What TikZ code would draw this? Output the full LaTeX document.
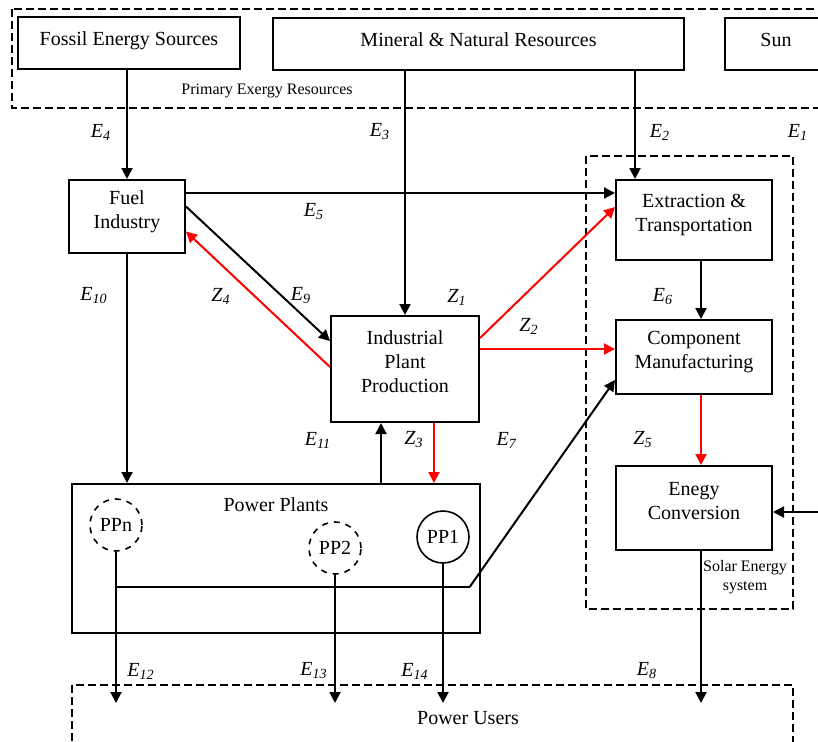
\documentclass[tikz,border=0pt]{standalone}
\usepackage{fontspec}
\setmainfont{Liberation Serif}
\usetikzlibrary{arrows.meta,calc}

\newcommand{\flowlab}[2]{\textit{#1}\textsubscript{\textit{#2}}}

\begin{document}
\begin{tikzpicture}[x=0.5pt, y=-0.5pt,
  block/.style={draw, line width=1pt, align=center, text depth=7pt},
  source/.style={block, text depth=4pt, minimum height=26pt},
  group/.style={draw, dash pattern=on 4pt off 2pt, line width=0.8pt},
  arr/.style={line width=1pt, -{Triangle[length=5.5pt,width=5.5pt]}},
  redarr/.style={arr, red},
  plant/.style={draw, circle, minimum size=26pt, inner sep=0pt, line width=0.8pt},
  lbl/.style={inner sep=0pt}]

  \useasboundingbox (0,0) rectangle (818,741);

  % Primary exergy resources
  \draw[group] (12,9) rectangle (860,108);
  \node[source, minimum width=111pt] (fossil) at (129,43) {Fossil Energy Sources};
  \node[source, minimum width=205.5pt] (mineral) at (478.5,44) {Mineral \& Natural Resources};
  \node[source, minimum width=51pt] (sun) at (776,44) {Sun};
  \node[font=\footnotesize] (primary) at (267,91) {Primary Exergy Resources};

  % Solar energy system
  \draw[group] (586,156) rectangle (793,609);
  \node[block, minimum width=78pt, minimum height=40pt] (extr) at (694,220) {Extraction \&\\Transportation};
  \node[block, minimum width=78pt, minimum height=37pt] (comp) at (694,357) {Component\\Manufacturing};
  \node[block, minimum width=78pt, minimum height=42pt] (conv) at (694,508) {Enegy\\Conversion};
  \node[font=\footnotesize, align=center] (solar) at (745,577) {Solar Energy\\system};

  % Industry
  \node[block, minimum width=58pt, minimum height=36.5pt] (fuel) at (127,216.5) {Fuel\\Industry};
  \node[block, minimum width=74pt, minimum height=53pt] (ind) at (405,369) {Industrial\\Plant\\Production};

  % Power plants
  \node[draw, line width=1pt, minimum width=204pt, minimum height=74.5pt] (pp) at (276,558.5) {};
  \node (pplabel) at (276,505) {Power Plants};
  \node[plant, dashed] (ppn) at (116,525) {PPn};
  \node[plant, dashed] (pp2) at (335,548) {PP2};
  \node[plant] (pp1) at (443,537) {PP1};

  % Power users
  \draw[group] (72,685) rectangle (793,780);
  \node (users) at (468,718) {Power Users};
  \coordinate (utop) at (400,703);

  % Exergy flows
  \draw[arr] (fossil.south -| fuel.north) -- (fuel.north);
  \draw[arr] (mineral.south -| ind.north) -- (ind.north);
  \coordinate (e2in) at ($(extr.north west)+(20,0)$);
  \draw[arr] (mineral.south -| e2in) -- (e2in);
  \draw[arr] (sun.east) |- ($(conv.east)+(0,4)$);
  \draw[arr] ($(fuel.north east)+(0,14)$) coordinate (e5) -- (e5 -| extr.west);
  \draw[arr] ($(fuel.east)+(0,-10)$) -- ($(ind.west)+(0,-28)$);
  \draw[arr] (fuel) -- (fuel |- pp.north);
  \coordinate (e11) at ($(ind.south)+(-24,0)$);
  \draw[arr] (e11 |- pp.north) -- (e11);
  \coordinate (e6) at ($(extr.south)+(7,0)$);
  \draw[arr] (e6) -- (e6 |- comp.north);
  \draw[arr] (conv.south -| e6) -- (e6 |- utop);
  \draw[arr] (ppn) -- (ppn |- utop);
  \draw[arr] (pp2) -- (pp2 |- utop);
  \draw[arr] (pp1) -- (pp1 |- utop);
  \coordinate (bus) at ($(ppn.south)+(0,35)$);
  \coordinate (bend) at (bus -| pp1.east);
  \draw[line width=1pt] (bus) -- (bend);
  \draw[arr] (bend) -- ($(comp.west)+(0,23)$);

  % Cost flows
  \draw[redarr] ($(ind.west)+(0,-2)$) -- ($(fuel.east)+(0,15)$);
  \draw[redarr] ($(ind.east)+(0,-31)$) -- ($(extr.west)+(0,-13)$);
  \draw[redarr] ($(ind.east)+(0,-20)$) coordinate (z2) -- (z2 -| comp.west);
  \coordinate (z3) at ($(ind.south)+(29,0)$);
  \draw[redarr] (z3) -- (z3 |- pp.north);
  \draw[redarr] (comp.south -| e6) -- (conv.north -| e6);

  % Labels
  \node[lbl] (le1) at (798,132) {\flowlab{E}{1}};
  \node[lbl] (le2) at (660,132) {\flowlab{E}{2}};
  \node[lbl] (le3) at (380,132) {\flowlab{E}{3}};
  \node[lbl] (le4) at (101,132) {\flowlab{E}{4}};
  \node[lbl] (le5) at (314,212) {\flowlab{E}{5}};
  \node[lbl] (le6) at (663,297) {\flowlab{E}{6}};
  \node[lbl] (le7) at (507,440) {\flowlab{E}{7}};
  \node[lbl] (le8) at (647,671) {\flowlab{E}{8}};
  \node[lbl] (le9) at (301,296) {\flowlab{E}{9}};
  \node[lbl] (le10) at (94,296) {\flowlab{E}{10}};
  \node[lbl] (le11) at (318,440) {\flowlab{E}{11}};
  \node[lbl] (le12) at (141,671) {\flowlab{E}{12}};
  \node[lbl] (le13) at (314,671) {\flowlab{E}{13}};
  \node[lbl] (le14) at (415,671) {\flowlab{E}{14}};
  \node[lbl] (lz1) at (457,297) {\flowlab{Z}{1}};
  \node[lbl] (lz2) at (529,326) {\flowlab{Z}{2}};
  \node[lbl] (lz3) at (414,440) {\flowlab{Z}{3}};
  \node[lbl] (lz4) at (221,296) {\flowlab{Z}{4}};
  \node[lbl] (lz5) at (643,440) {\flowlab{Z}{5}};

\end{tikzpicture}
\end{document}
